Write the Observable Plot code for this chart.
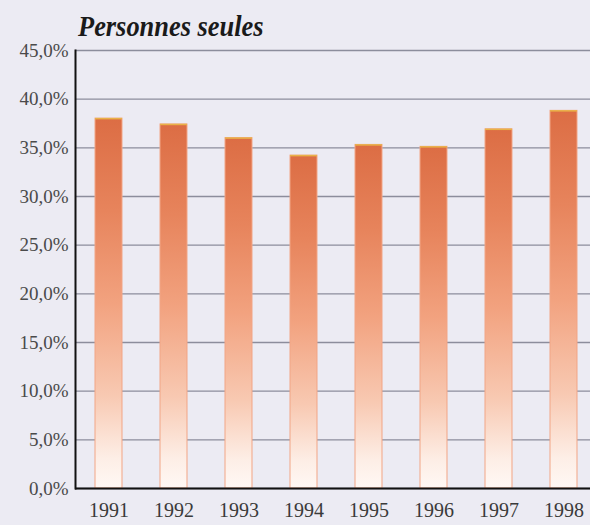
<!DOCTYPE html>
<html>
<head>
<meta charset="utf-8">
<script src="https://cdn.jsdelivr.net/npm/d3@7"></script>
<script src="https://cdn.jsdelivr.net/npm/@observablehq/plot@0.6"></script>
<style>
  html, body { margin: 0; padding: 0; background: #ecebf3; overflow: hidden; }
  #wrap { position: relative; width: 590px; height: 525px; }
  #title {
    position: absolute; left: 78px; top: 8px;
    font-family: "Liberation Serif", "DejaVu Serif", serif;
    font-weight: bold; font-style: italic; font-size: 30px; color: #1a1a1a;
    transform: scaleX(0.88); transform-origin: left top; white-space: nowrap;
    line-height: 1.2;
  }
  #chart svg text { font-family: "Liberation Serif", serif; }
</style>
</head>
<body>
<div id="wrap">
  <div id="chart"></div>
  <div id="title">Personnes seules</div>
</div>
<script>
const years = ["1991", "1992", "1993", "1994", "1995", "1996", "1997", "1998"];
const shares = [38.0, 37.4, 36.0, 34.2, 35.3, 35.1, 36.9, 38.8];
const yTicks = [0, 5, 10, 15, 20, 25, 30, 35, 40, 45];

const data = years.map((y, i) => ({year: y, value: shares[i]}));
const fmt = d => d.toFixed(1).replace(".", ",") + "%";
const serif = "'Liberation Serif', serif";

const plot = Plot.plot({
  width: 590,
  height: 525,
  marginTop: 50,
  marginBottom: 37,
  marginLeft: 75,
  marginRight: 0,
  style: {background: "transparent", fontFamily: serif, color: "#1a1a1a"},
  x: {domain: years, range: [55, 617], padding: 0.588, label: null},
  y: {domain: [0, 45], ticks: yTicks, label: null},
  marks: [
    Plot.gridY(yTicks, {stroke: "#8c8d9c", strokeOpacity: 1, strokeWidth: 1.3}),
    Plot.barY(data, {x: "year", y: "value", fill: "#e2764c", stroke: "#f2a585", strokeWidth: 1}),
    Plot.tickY(data, {x: "year", y: "value", stroke: "#e9b248", strokeWidth: 1.5}),
    Plot.axisY(yTicks, {tickSize: 0, tickPadding: 7, tickFormat: fmt, fontSize: 19, fontFamily: serif, fill: "#4a4a4a", label: null}),
    Plot.axisX({tickSize: 0, tickPadding: 14, fontSize: 20, fontFamily: serif, fill: "#3a3a3a", label: null}),
    Plot.ruleY([0], {stroke: "#111", strokeWidth: 2.2}),
    Plot.frame({anchor: "left", stroke: "#111", strokeWidth: 2})
  ]
});

const svg = d3.select(plot);
const defs = svg.insert("defs", ":first-child");
const grad = defs.append("linearGradient")
  .attr("id", "barGrad").attr("x1", 0).attr("y1", 0).attr("x2", 0).attr("y2", 1);
[[0, "#dc6d44"], [0.25, "#e7845c"], [0.5, "#f2a27f"], [0.75, "#f8c9b2"], [0.92, "#fdeee6"], [1, "#fff8f4"]]
  .forEach(([o, c]) => grad.append("stop").attr("offset", o).attr("stop-color", c));
svg.selectAll("g[aria-label='bar'] rect").attr("fill", "url(#barGrad)");
plot.style.overflow = "visible";

document.getElementById("chart").appendChild(plot);
</script>
</body>
</html>
